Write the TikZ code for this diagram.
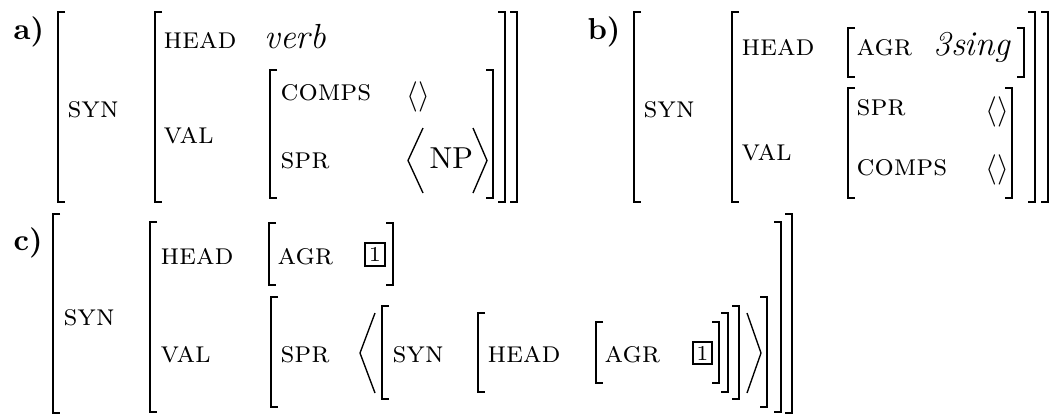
\documentclass[tikz,border=0pt]{standalone}
\usepackage{tikz}
\newcommand\LBr[3]{\draw[brk] (#1+7,#2) -- (#1,#2) -- (#1,#3) -- (#1+7,#3);}
\newcommand\RBr[3]{\draw[brk] (#1-7,#2) -- (#1,#2) -- (#1,#3) -- (#1-7,#3);}
\newcommand\LAng[4]{\draw[ang] (#2,#3) -- (#1,{(#3+#4)/2}) -- (#2,#4);}
\newcommand\RAng[4]{\draw[ang] (#1,#3) -- (#2,{(#3+#4)/2}) -- (#1,#4);}
\tikzset{
  lab/.style={anchor=base west, inner sep=0pt, font=\bfseries},
  feat/.style={anchor=base west, inner sep=0pt, font=\scshape},
  valtxt/.style={anchor=base west, inner sep=0pt, font=\fontsize{11.5}{13}\selectfont\itshape},
  plain/.style={anchor=base west, inner sep=0pt},
  tagbox/.style={draw, line width=0.75pt, inner sep=0pt, minimum width=6.4pt, minimum height=7.4pt, font=\scriptsize},
  brk/.style={line width=0.5pt, line cap=butt},
  ang/.style={line width=0.45pt, line join=miter},
}
\begin{document}
\begin{tikzpicture}[x=0.33pt,y=-0.33pt]
\useasboundingbox (0,0) rectangle (1053,416);
% ---------- a) ----------
\node[lab] (la) at (13,39) {a)};
\LBr{58}{12}{202}
\node[feat] (asyn) at (67,117) {syn};
\LBr{155}{12}{202}
\node[feat] (ahead) at (163,48) {head};
\node[feat] (aval) at (163,143) {val};
\node[valtxt] (averb) at (264,48) {verb};
\LBr{270}{70}{198}
\node[feat] (acomps) at (280,100) {comps};
\node[plain] (aempty) at (406,104) {$\langle\rangle$};
\node[feat] (aspr) at (280,168) {spr};
\LAng{408}{423}{128}{193}
\node[plain] (anp) at (429,168) {NP};
\RAng{473}{487}{128}{193}
\RBr{493}{70}{198}
\RBr{505}{12}{202}
\RBr{517}{12}{202}
% ---------- b) ----------
\node[lab] (lb) at (587,39) {b)};
\LBr{634}{12}{202}
\node[feat] (bsyn) at (643,117) {syn};
\LBr{732}{12}{202}
\node[feat] (bhead) at (741,55) {head};
\node[feat] (bval) at (741,160) {val};
\LBr{848}{28}{77}
\node[feat] (bagr) at (856,55) {agr};
\node[valtxt] (bsing) at (933,55) {3sing};
\RBr{1024}{28}{77}
\LBr{848}{88}{198}
\node[feat] (bspr) at (856,115) {spr};
\node[plain] (bempty1) at (985,119) {$\langle\rangle$};
\node[feat] (bcomps) at (856,175) {comps};
\node[plain] (bempty2) at (985,177) {$\langle\rangle$};
\RBr{1012}{88}{198}
\RBr{1035}{12}{202}
\RBr{1048}{12}{202}
% ---------- c) ----------
\node[lab] (lc) at (13,250) {c)};
\LBr{53}{214}{413}
\node[feat] (csyn) at (63,325) {syn};
\LBr{150}{222}{412}
\node[feat] (chead) at (160,264) {head};
\node[feat] (cval) at (160,362) {val};
\LBr{269}{223}{285}
\node[feat] (cagr) at (277,264) {agr};
\node[tagbox] (ctag1) at (375,254.5) {1};
\RBr{393}{223}{285}
\LBr{271}{297}{407}
\node[feat] (cspr) at (280,362) {spr};
\LAng{360}{375}{313}{393}
\LBr{382}{306}{399}
\node[feat] (csyn2) at (392,362) {syn};
\LBr{478}{313}{392}
\node[feat] (chead2) at (487,362) {head};
\LBr{596}{322}{383}
\node[feat] (cagr2) at (604,362) {agr};
\node[tagbox] (ctag2) at (702.5,353) {1};
\RBr{719}{322}{383}
\RBr{728}{313}{392}
\RBr{739}{306}{399}
\RAng{747}{761}{313}{393}
\RBr{767}{297}{407}
\RBr{781}{222}{412}
\RBr{792}{214}{413}
\end{tikzpicture}
\end{document}
